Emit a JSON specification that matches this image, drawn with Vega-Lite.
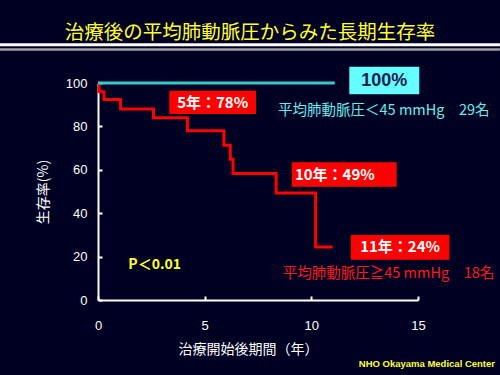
{
  "$schema": "https://vega.github.io/schema/vega-lite/v6.json",
  "width": 320,
  "height": 217,
  "autosize": {"type": "none"},
  "padding": {"left": 98, "top": 83, "right": 82, "bottom": 75},
  "background": "#000022",
  "config": {
    "view": {"stroke": null},
    "axis": {
      "domainColor": "#FFFFFF",
      "domainWidth": 2,
      "tickColor": "#FFFFFF",
      "tickWidth": 2,
      "tickSize": -4,
      "labelColor": "#FFFFFF",
      "labelFont": "Liberation Sans",
      "labelFontSize": 13,
      "labelFlush": false,
      "grid": false,
      "titleColor": "#FFFFFF",
      "titleFont": "Noto Sans CJK JP",
      "titleFontSize": 14,
      "titleFontWeight": "normal"
    }
  },
  "title": {
    "text": "治療後の平均肺動脈圧からみた長期生存率",
    "font": "Noto Sans CJK JP",
    "fontSize": 19.5,
    "fontWeight": "normal",
    "color": "#FFFF33",
    "anchor": "middle",
    "dx": -8,
    "dy": 6,
    "offset": 6
  },
  "data": {
    "values": [
      {"group": "≧45", "t": 0, "s": 100},
      {"group": "≧45", "t": 0.05, "s": 96},
      {"group": "≧45", "t": 0.28, "s": 92.4},
      {"group": "≧45", "t": 1.06, "s": 88},
      {"group": "≧45", "t": 2.6, "s": 84},
      {"group": "≧45", "t": 4.19, "s": 78},
      {"group": "≧45", "t": 5.9, "s": 71.3},
      {"group": "≧45", "t": 6.2, "s": 64.9},
      {"group": "≧45", "t": 6.33, "s": 58.3},
      {"group": "≧45", "t": 8.35, "s": 49.3},
      {"group": "≧45", "t": 10.2, "s": 24.4},
      {"group": "≧45", "t": 11.0, "s": 24.4},
      {"group": "<45", "t": 0, "s": 100},
      {"group": "<45", "t": 11.1, "s": 100}
    ]
  },
  "layer": [
    {
      "transform": [{"filter": "datum.group === '≧45'"}],
      "mark": {"type": "line", "interpolate": "step-after", "color": "#FF0000", "strokeWidth": 3},
      "encoding": {
        "x": {
          "field": "t", "type": "quantitative",
          "scale": {"domain": [0, 15], "nice": false, "zero": false},
          "axis": {"values": [0, 5, 10, 15], "title": "治療開始後期間（年）", "labelPadding": 23, "titlePadding": 10, "titleX": 150}
        },
        "y": {
          "field": "s", "type": "quantitative",
          "scale": {"domain": [0, 100], "nice": false},
          "axis": {"values": [0, 20, 40, 60, 80, 100], "title": "生存率(%)", "labelPadding": 15, "titlePadding": 15}
        }
      }
    },
    {
      "transform": [{"filter": "datum.group === '<45'"}],
      "mark": {"type": "line", "color": "#33CCCC", "strokeWidth": 3},
      "encoding": {
        "x": {"field": "t", "type": "quantitative"},
        "y": {"field": "s", "type": "quantitative"}
      }
    },
    {
      "data": {"values": [{"part": "title rule"}]},
      "mark": {"type": "rule", "color": "#FFFFFF", "strokeWidth": 3},
      "encoding": {
        "x": {"datum": -4.594, "type": "quantitative"},
        "x2": {"datum": 18.84},
        "y": {"datum": 117.6, "type": "quantitative"}
      }
    },
    {
      "data": {"values": [{"part": "title rule 2"}]},
      "mark": {"type": "rule", "color": "#A0A0A8", "strokeWidth": 2.5},
      "encoding": {
        "x": {"datum": -4.594, "type": "quantitative"},
        "x2": {"datum": 18.84},
        "y": {"datum": 115.4, "type": "quantitative"}
      }
    },
    {
      "data": {"values": [{"label": "100%"}]},
      "layer": [
        {
          "mark": {"type": "rect", "color": "#66FFFF"},
          "encoding": {
            "x": {"datum": 11.78, "type": "quantitative"},
            "x2": {"datum": 15.06},
            "y": {"datum": 107.5, "type": "quantitative"},
            "y2": {"datum": 94.8}
          }
        },
        {
          "mark": {"type": "text", "font": "Liberation Sans", "fontSize": 18, "fontWeight": "bold", "color": "#1A2050", "align": "center", "baseline": "middle"},
          "encoding": {
            "text": {"field": "label"},
            "x": {"datum": 13.42, "type": "quantitative"},
            "y": {"datum": 101.1, "type": "quantitative"}
          }
        }
      ]
    },
    {
      "data": {"values": [{"label": "5年：78%"}]},
      "layer": [
        {
          "mark": {"type": "rect", "color": "#FF0000"},
          "encoding": {
            "x": {"datum": 3.34, "type": "quantitative"},
            "x2": {"datum": 7.41},
            "y": {"datum": 96.45, "type": "quantitative"},
            "y2": {"datum": 85.7}
          }
        },
        {
          "mark": {"type": "text", "font": "Noto Sans CJK JP", "fontSize": 15, "fontWeight": "bold", "color": "#FFFFFF", "align": "center", "baseline": "middle"},
          "encoding": {
            "text": {"field": "label"},
            "x": {"datum": 5.375, "type": "quantitative"},
            "y": {"datum": 91.0, "type": "quantitative"}
          }
        }
      ]
    },
    {
      "data": {"values": [{"label": "10年：49%"}]},
      "layer": [
        {
          "mark": {"type": "rect", "color": "#FF0000"},
          "encoding": {
            "x": {"datum": 9.08, "type": "quantitative"},
            "x2": {"datum": 14.0},
            "y": {"datum": 63.5, "type": "quantitative"},
            "y2": {"datum": 52.2}
          }
        },
        {
          "mark": {"type": "text", "font": "Noto Sans CJK JP", "fontSize": 15, "fontWeight": "bold", "color": "#FFFFFF", "align": "center", "baseline": "middle"},
          "encoding": {
            "text": {"field": "label"},
            "x": {"datum": 11.1, "type": "quantitative"},
            "y": {"datum": 57.8, "type": "quantitative"}
          }
        }
      ]
    },
    {
      "data": {"values": [{"label": "11年：24%"}]},
      "layer": [
        {
          "mark": {"type": "rect", "color": "#FF0000"},
          "encoding": {
            "x": {"datum": 11.85, "type": "quantitative"},
            "x2": {"datum": 16.47},
            "y": {"datum": 30.0, "type": "quantitative"},
            "y2": {"datum": 18.5}
          }
        },
        {
          "mark": {"type": "text", "font": "Noto Sans CJK JP", "fontSize": 15, "fontWeight": "bold", "color": "#FFFFFF", "align": "center", "baseline": "middle"},
          "encoding": {
            "text": {"field": "label"},
            "x": {"datum": 14.16, "type": "quantitative"},
            "y": {"datum": 24.2, "type": "quantitative"}
          }
        }
      ]
    },
    {
      "data": {"values": [{"label": "平均肺動脈圧＜45 mmHg　29名"}]},
      "mark": {"type": "text", "font": "Noto Sans CJK JP", "fontSize": 14.5, "color": "#66EEEE", "align": "left", "baseline": "middle"},
      "encoding": {
        "text": {"field": "label"},
        "x": {"datum": 8.44, "type": "quantitative"},
        "y": {"datum": 87.2, "type": "quantitative"}
      }
    },
    {
      "data": {"values": [{"label": "平均肺動脈圧≧45 mmHg　18名"}]},
      "mark": {"type": "text", "font": "Noto Sans CJK JP", "fontSize": 14.5, "color": "#FF1A1A", "align": "left", "baseline": "middle"},
      "encoding": {
        "text": {"field": "label"},
        "x": {"datum": 8.66, "type": "quantitative"},
        "y": {"datum": 11.85, "type": "quantitative"}
      }
    },
    {
      "data": {"values": [{"label": "P＜0.01"}]},
      "mark": {"type": "text", "font": "Noto Sans CJK JP", "fontSize": 14, "fontWeight": "bold", "color": "#FFFF33", "align": "left", "baseline": "middle"},
      "encoding": {
        "text": {"field": "label"},
        "x": {"datum": 1.42, "type": "quantitative"},
        "y": {"datum": 16.1, "type": "quantitative"}
      }
    },
    {
      "data": {"values": [{"label": "NHO Okayama Medical Center"}]},
      "mark": {"type": "text", "font": "Liberation Sans", "fontSize": 9.5, "fontWeight": "bold", "color": "#FFFF33", "align": "right", "baseline": "middle"},
      "encoding": {
        "text": {"field": "label"},
        "x": {"datum": 18.61, "type": "quantitative"},
        "y": {"datum": -29.6, "type": "quantitative"}
      }
    }
  ]
}
